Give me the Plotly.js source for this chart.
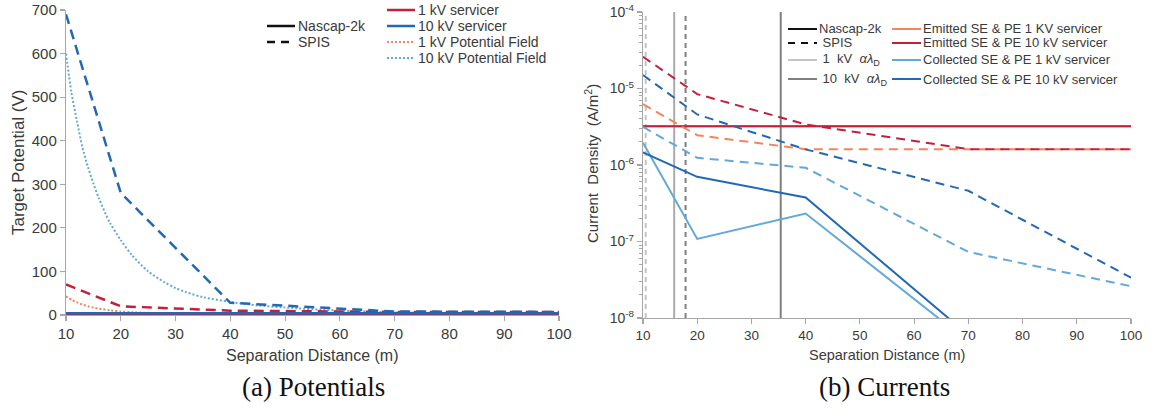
<!DOCTYPE html>
<html>
<head>
<meta charset="utf-8">
<script src="https://cdn.plot.ly/plotly-3.0.1.min.js"></script>
<style>
  html, body { margin: 0; padding: 0; background: #ffffff; }
  #chart { width: 1151px; height: 413px; }
</style>
</head>
<body>
<div id="chart"></div>
<script>
// ---------- (a) Potentials: target potential (V) vs separation distance (m) ----------
const distTicks = [10, 20, 30, 40, 50, 60, 70, 80, 90, 100];

const simDist = [10, 20, 40, 70, 100];
const nascap1kV = [3, 3, 3, 3, 3];
const nascap10kV = [4, 4, 4, 4, 4];
const spis1kV = [70, 20, 10, 7, 7];
const spis10kV = [690, 280, 28, 8, 7];

const fieldDist = [10, 11, 12, 13, 14, 15, 16, 18, 20, 22, 25, 28, 30, 32, 35, 40, 45, 50, 60, 70, 80, 90, 100];
const field1kV = [43, 35, 29, 24, 20, 17, 14.5, 11, 8, 6.5, 5, 4, 3.5, 3.1, 2.7, 2.2, 1.9, 1.6, 1.2, 1, 0.8, 0.7, 0.6];
const field10kV = [600, 510, 445, 385, 340, 302, 268, 212, 172, 138, 100, 75, 62, 52, 41, 30, 22, 17, 10, 6, 4, 3, 2];

// ---------- (b) Currents: current density (A/m^2) vs separation distance (m) ----------
const curDist = [10, 20, 40, 70, 100];
const emitted1kVNascap = [3.2e-6, 3.2e-6, 3.2e-6, 3.2e-6, 3.2e-6];
const emitted10kVNascap = [3.22e-6, 3.22e-6, 3.22e-6, 3.22e-6, 3.22e-6];
const emitted1kVSpis = [6.25e-6, 2.45e-6, 1.61e-6, 1.61e-6, 1.61e-6];
const emitted10kVSpis = [2.6e-5, 8.45e-6, 3.39e-6, 1.61e-6, 1.61e-6];
const collected1kVNascap = [1.95e-6, 1.08e-7, 2.32e-7, 4.9e-9];
const collected10kVNascap = [1.46e-6, 7.0e-7, 3.76e-7, 6.0e-9];
const collected1kVSpis = [3.15e-6, 1.24e-6, 9.2e-7, 7.3e-8, 2.6e-8];
const collected10kVSpis = [1.5e-5, 4.58e-6, 1.6e-6, 4.6e-7, 3.37e-8];

// alpha * Debye length markers (m)
const debyeLabels = ['1  kV  <i>αλ</i><sub>D</sub>', '10  kV  <i>αλ</i><sub>D</sub>'];
const debyeNascap = [15.75, 35.4];
const debyeSpis = [10.5, 17.85];
const densityRange = [1e-8, 1e-4];
const densityTicks = [1e-8, 1e-7, 1e-6, 1e-5, 1e-4];
const densityTickText = ['10<sup>-8</sup>', '10<sup>-7</sup>', '10<sup>-6</sup>', '10<sup>-5</sup>', '10<sup>-4</sup>'];

// ---------- styling ----------
const W = 1151, H = 413;
const px = v => v / W;
const py = v => 1 - v / H;
const SANS = 'Liberation Sans, Arial, sans-serif';
const SERIF = 'Liberation Serif, Times New Roman, serif';
const TXT = '#3a3a3a';
const AXIS = '#a6a6a6';

const RED = '#c3203a';
const BLUE = '#2368b2';
const ORANGE = '#f4845c';
const LIGHTBLUE = '#62a9da';
const GRAY1 = '#c4c4c4';
const GRAY10 = '#7f7f7f';

const DASH_A = '10px,6px';
const DASH_B = '9px,6px';
const DOT = '2px,2px';

const traces = [];
function add(x, y, name, line, axes) {
  traces.push({
    type: 'scatter', mode: 'lines', x: x, y: y, name: name,
    line: Object.assign({ shape: 'linear' }, line),
    xaxis: axes[0], yaxis: axes[1], hoverinfo: 'x+y+name', showlegend: false
  });
  return traces[traces.length - 1];
}

// (a) Potentials
const A = ['x', 'y'];
add(fieldDist, field1kV, '1 kV Potential Field', { color: ORANGE, width: 2, dash: DOT, shape: 'spline', smoothing: 0.8 }, A);
add(fieldDist, field10kV, '10 kV Potential Field', { color: LIGHTBLUE, width: 2, dash: DOT, shape: 'spline', smoothing: 0.8 }, A);
add(simDist, spis1kV, '1 kV servicer SPIS', { color: RED, width: 2.5, dash: DASH_A }, A);
add(simDist, spis10kV, '10 kV servicer SPIS', { color: BLUE, width: 2.5, dash: DASH_A }, A);
add(simDist, nascap1kV, '1 kV servicer', { color: RED, width: 2.5 }, A);
add(simDist, nascap10kV, '10 kV servicer', { color: BLUE, width: 2.5 }, A);

// (b) Currents
const B = ['x2', 'y2'];
debyeSpis.forEach((d, i) => add([d, d], densityRange, debyeLabels[i] + ' SPIS',
  { color: i === 0 ? GRAY1 : GRAY10, width: 2, dash: '5px,4px' }, B));
debyeNascap.forEach((d, i) => add([d, d], densityRange, debyeLabels[i],
  { color: i === 0 ? '#ababab' : GRAY10, width: 2 }, B));
add(curDist, emitted1kVNascap, 'Emitted SE & PE 1 KV servicer', { color: ORANGE, width: 2 }, B);
add(curDist, emitted10kVNascap, 'Emitted SE & PE 10 kV servicer', { color: RED, width: 2 }, B);
add(curDist, emitted1kVSpis, 'Emitted SE & PE 1 KV servicer SPIS', { color: ORANGE, width: 2, dash: DASH_B }, B);
add(curDist, emitted10kVSpis, 'Emitted SE & PE 10 kV servicer SPIS', { color: RED, width: 2, dash: DASH_B }, B);
add(curDist, collected1kVSpis, 'Collected SE & PE 1 kV servicer SPIS', { color: LIGHTBLUE, width: 2, dash: DASH_B }, B);
add(curDist, collected10kVSpis, 'Collected SE & PE 10 kV servicer SPIS', { color: BLUE, width: 2, dash: DASH_B }, B);
add(curDist.slice(0, collected1kVNascap.length), collected1kVNascap, 'Collected SE & PE 1 kV servicer', { color: LIGHTBLUE, width: 2 }, B);
add(curDist.slice(0, collected10kVNascap.length), collected10kVNascap, 'Collected SE & PE 10 kV servicer', { color: BLUE, width: 2 }, B);

// ---------- hand-placed legend blocks ----------
const shapes = [];
const annotations = [];
function legendBlock(items, lineX0, lineX1, textX, rowsY, fontSize) {
  items.forEach((it, i) => {
    const y = py(rowsY[i]);
    shapes.push({
      type: 'line', xref: 'paper', yref: 'paper',
      x0: px(lineX0), x1: px(lineX1), y0: y, y1: y,
      line: { color: it.color, width: it.width || 2, dash: it.dash || 'solid' }
    });
    annotations.push({
      xref: 'paper', yref: 'paper', x: px(textX), y: y,
      xanchor: 'left', yanchor: 'middle', showarrow: false,
      text: it.text, font: { family: SANS, size: fontSize, color: TXT }
    });
  });
}

legendBlock([
  { text: 'Nascap-2k', color: '#111111', width: 2.5 },
  { text: 'SPIS', color: '#111111', width: 2.5, dash: '8px,6px' }
], 267, 295, 296, [26, 42], 14);

legendBlock([
  { text: '1 kV servicer', color: RED, width: 2.5 },
  { text: '10 kV servicer', color: BLUE, width: 2.5 },
  { text: '1 kV Potential Field', color: ORANGE, width: 2, dash: DOT },
  { text: '10 kV Potential Field', color: LIGHTBLUE, width: 2, dash: DOT }
], 387, 415, 416, [10, 26, 42, 58], 14);

legendBlock([
  { text: 'Nascap-2k', color: '#111111', width: 2 },
  { text: ' SPIS', color: '#111111', width: 2, dash: '7px,6px' },
  { text: ' ' + debyeLabels[0], color: GRAY1, width: 2 },
  { text: ' ' + debyeLabels[1], color: GRAY10, width: 2 }
], 788, 817, 817, [29, 43, 60, 79], 13);

legendBlock([
  { text: 'Emitted SE & PE 1 KV servicer', color: ORANGE, width: 2 },
  { text: 'Emitted SE & PE 10 kV servicer', color: RED, width: 2 },
  { text: 'Collected SE & PE 1 kV servicer', color: LIGHTBLUE, width: 2 },
  { text: 'Collected SE & PE 10 kV servicer', color: BLUE, width: 2 }
], 892, 921, 921, [29, 43, 60, 79], 13);

// ---------- axis titles and panel captions ----------
function label(text, x, y, size, opts) {
  annotations.push(Object.assign({
    xref: 'paper', yref: 'paper', x: px(x), y: py(y),
    xanchor: 'center', yanchor: 'middle', showarrow: false,
    text: text, font: { family: SANS, size: size, color: TXT }
  }, opts || {}));
}
label('Separation Distance (m)', 312, 355, 16);
label('Separation Distance (m)', 887, 355, 14.5);
label('Target Potential (V)', 18, 162, 17, { textangle: -90 });
label('Current  Density  (A/m<sup>2</sup>)', 592, 164, 15, { textangle: -90 });
label('(a) Potentials', 313, 387, 27, { font: { family: SERIF, size: 27, color: '#111111' } });
label('(b) Currents', 884, 387, 27, { font: { family: SERIF, size: 27, color: '#111111' } });

const axisBase = {
  showline: true, linecolor: AXIS, linewidth: 1.2,
  ticks: 'outside', ticklen: 5, tickcolor: AXIS, tickwidth: 1.2,
  showgrid: false, zeroline: false, automargin: false
};

const layout = {
  width: W, height: H,
  margin: { l: 0, r: 0, t: 0, b: 0 },
  paper_bgcolor: '#ffffff', plot_bgcolor: '#ffffff',
  showlegend: false,
  xaxis: Object.assign({}, axisBase, {
    domain: [px(66), px(559)], anchor: 'y', range: [10, 100],
    tickmode: 'array', tickvals: distTicks,
    tickfont: { family: SANS, size: 15, color: TXT }
  }),
  yaxis: Object.assign({}, axisBase, {
    domain: [py(315), py(10)], anchor: 'x', range: [0, 700], dtick: 100,
    tickfont: { family: SANS, size: 15, color: TXT }
  }),
  xaxis2: Object.assign({}, axisBase, {
    domain: [px(643), px(1131)], anchor: 'y2', range: [10, 100],
    tickmode: 'array', tickvals: distTicks,
    tickfont: { family: SANS, size: 13.5, color: TXT }
  }),
  yaxis2: Object.assign({}, axisBase, {
    domain: [py(318), py(12)], anchor: 'x2', type: 'log', range: [-8, -4],
    tickmode: 'array', tickvals: densityTicks, ticktext: densityTickText,
    tickfont: { family: SANS, size: 14, color: TXT },
    minor: { ticks: 'outside', ticklen: 3, tickcolor: AXIS, tickwidth: 1, dtick: 'D1' }
  }),
  shapes: shapes,
  annotations: annotations
};

Plotly.newPlot('chart', traces, layout, { displayModeBar: false, staticPlot: true });
</script>
</body>
</html>
